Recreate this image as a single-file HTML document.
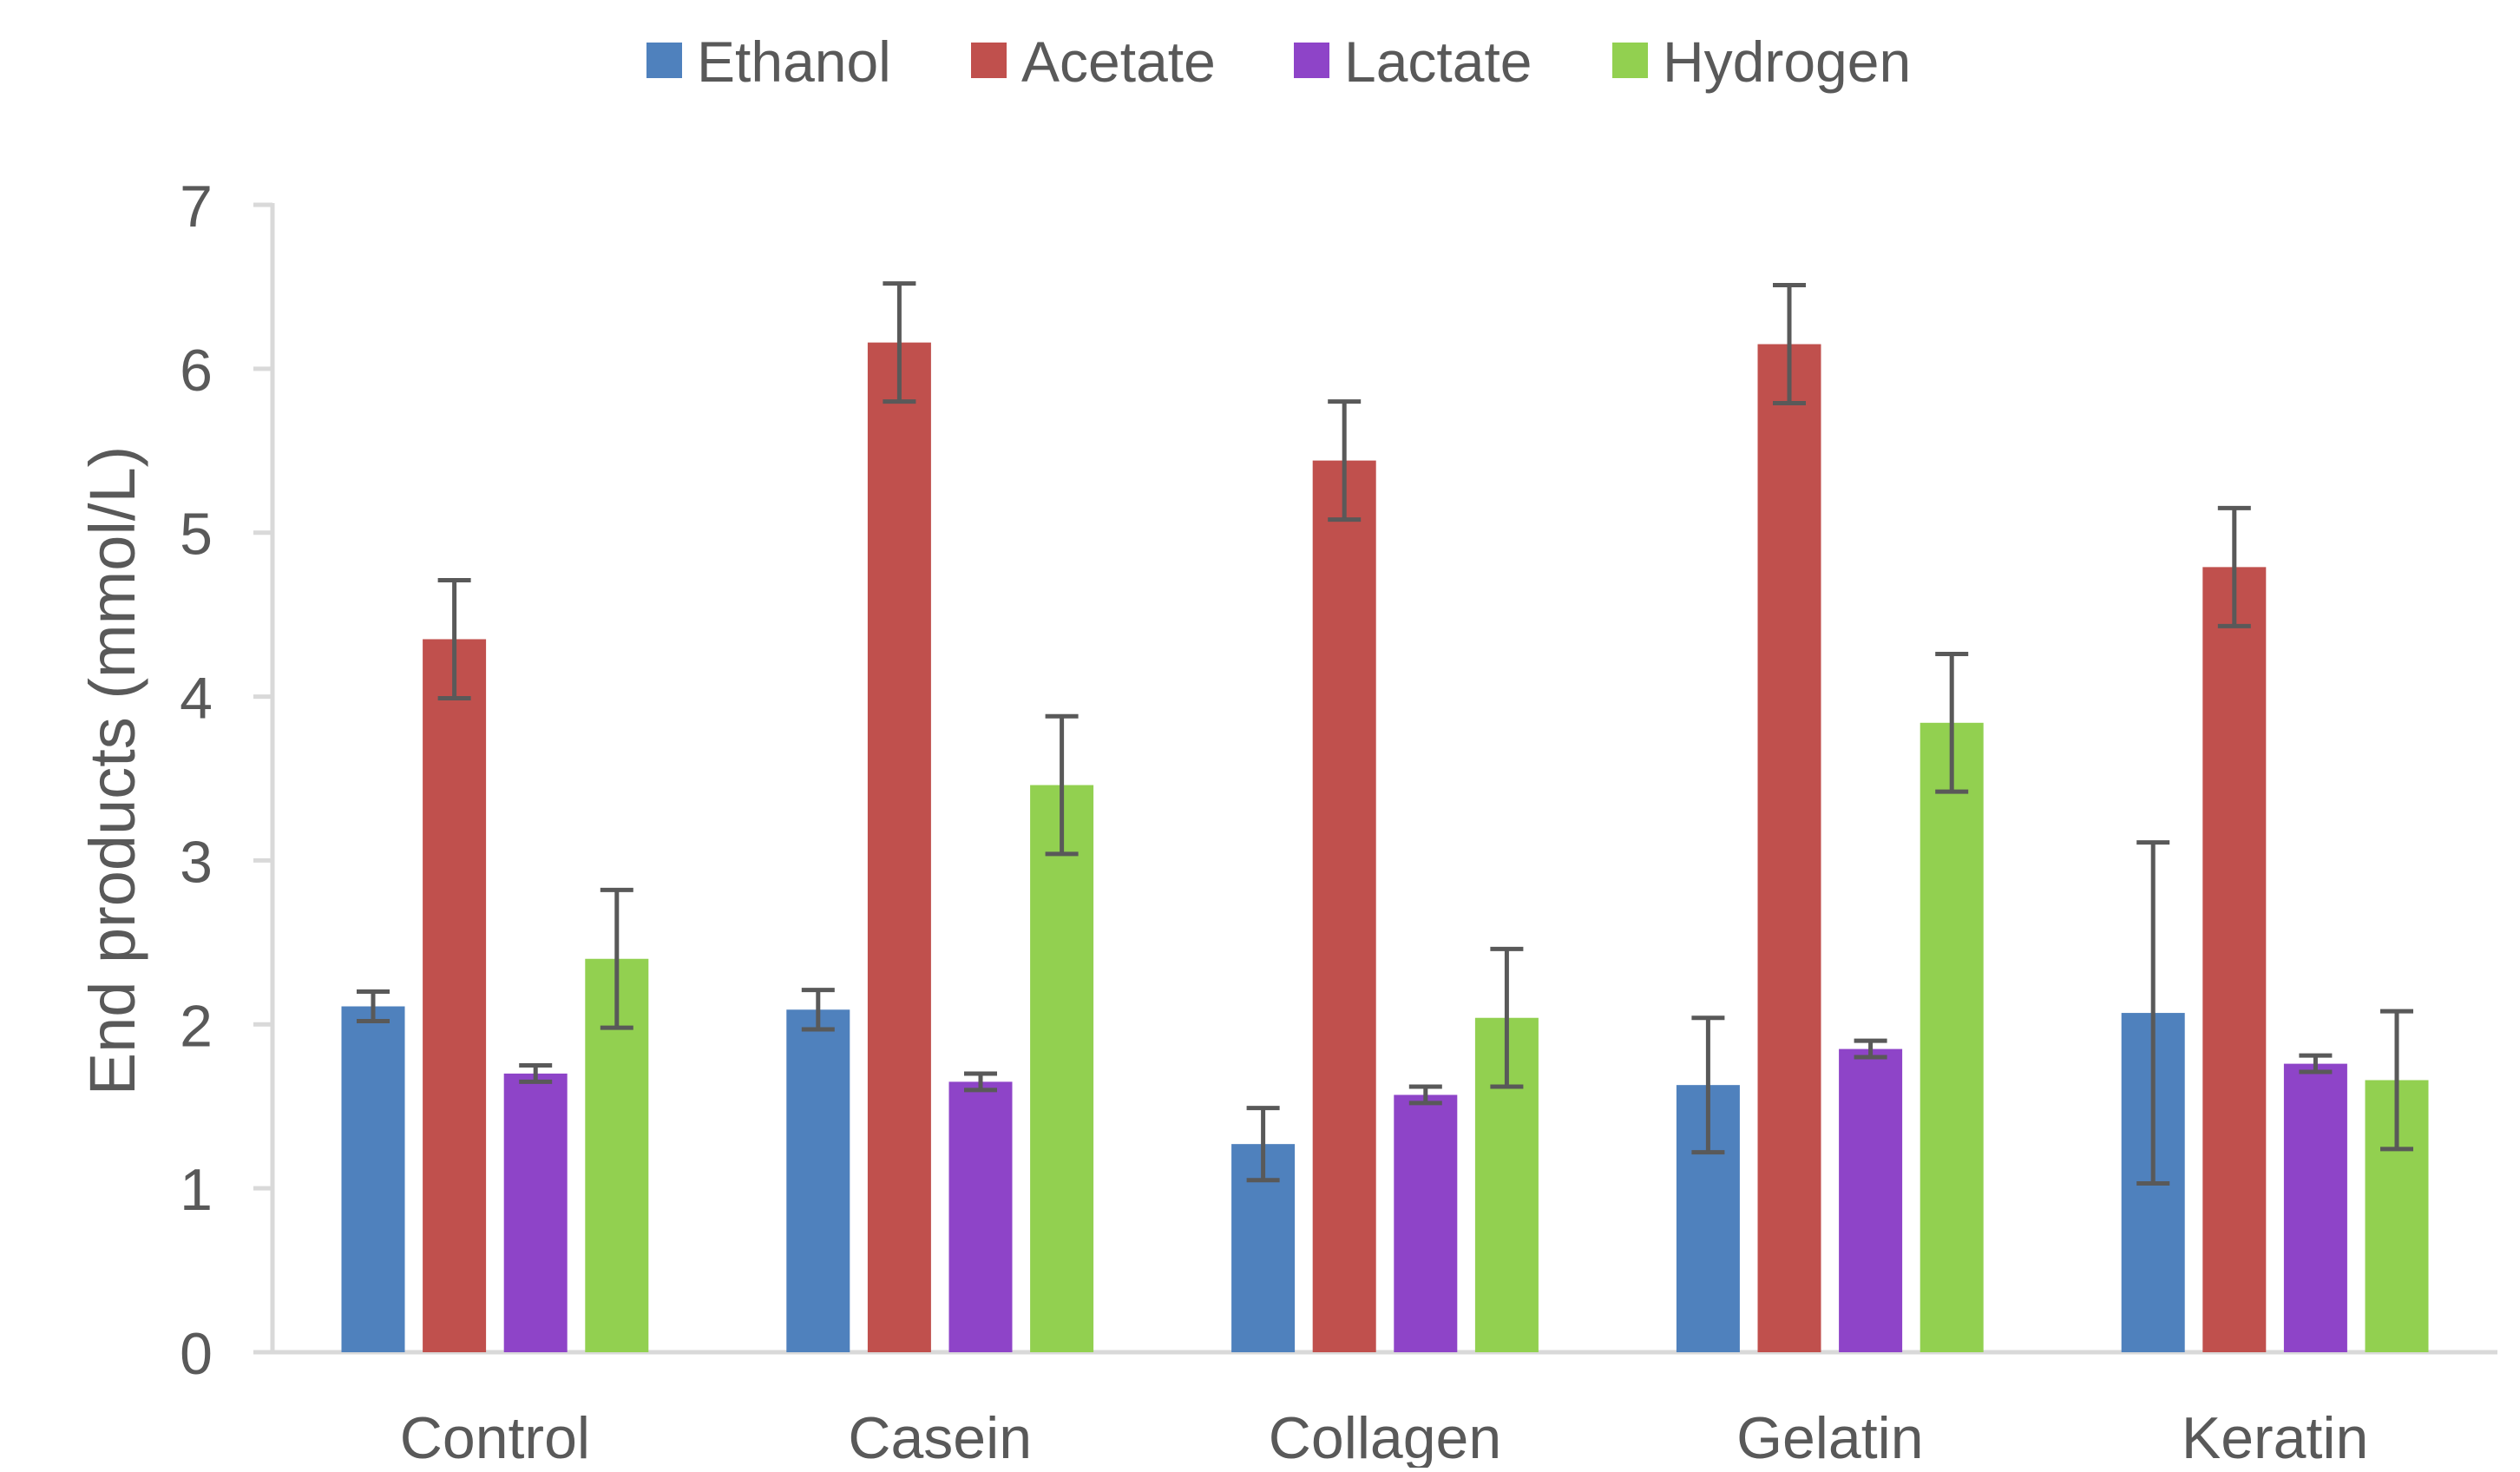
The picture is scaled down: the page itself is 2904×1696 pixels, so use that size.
<!DOCTYPE html>
<html><head><meta charset="utf-8"><style>
html,body{margin:0;padding:0;background:#fff;}
svg text{font-family:"Liberation Sans",sans-serif;fill:#595959;}
</style></head><body>
<svg id="chart" width="2904" height="1691" viewBox="0 0 2904 1691" xmlns="http://www.w3.org/2000/svg">
<g id="legend"></g>
<g id="axes"></g>
<g id="bars"></g>
<g id="errs"></g>
<text transform="translate(155,888) rotate(-90)" text-anchor="middle" font-size="74">End products (mmol/L)</text>
</svg>
<script>
const categories = ["Control","Casein","Collagen","Gelatin","Keratin"];
const seriesNames = ["Ethanol","Acetate","Lactate","Hydrogen"];
const ethanol = [2.11,2.09,1.27,1.63,2.07];
const acetate = [4.35,6.16,5.44,6.15,4.79];
const lactate = [1.70,1.65,1.57,1.85,1.76];
const hydrogen = [2.40,3.46,2.04,3.84,1.66];
const ethanolErr = [0.09,0.12,0.22,0.41,1.04];
const acetateErr = [0.36,0.36,0.36,0.36,0.36];
const lactateErr = [0.05,0.05,0.05,0.05,0.05];
const hydrogenErr = [0.42,0.42,0.42,0.42,0.42];
const yTicks = [0,1,2,3,4,5,6,7];

const colors = ["#4f81bd","#c0504d","#8e44c8","#92d050"];
const values = [ethanol,acetate,lactate,hydrogen];
const errs = [ethanolErr,acetateErr,lactateErr,hydrogenErr];
const NS="http://www.w3.org/2000/svg";
const X0=314, X1=2878, Y0=1558, Y7=236, YMAX=7;
const y = v => Y0 - (v/YMAX)*(Y0-Y7);
const groupW=(X1-X0)/categories.length;
const xc = i => X0 + groupW*(i+0.5);
const barW=73, step=93.6;
const barX = (i,s) => xc(i) + (s-1.5)*step - barW/2;
function mk(tag,attrs,parent){const e=document.createElementNS(NS,tag);for(const k in attrs)e.setAttribute(k,attrs[k]);parent.appendChild(e);return e;}
const axes=document.getElementById('axes');
yTicks.forEach(t=>{
  const l=mk('line',{x1:X0-22,x2:X0,y1:y(t),y2:y(t),stroke:'#d9d9d9','stroke-width':5},axes);
  
  
  const tx=mk('text',{x:245,y:y(t)+25,'text-anchor':'end','font-size':68},axes);
  tx.textContent=t;
  
  
});
const ya=mk('line',{x1:X0,x2:X0,y1:Y7-2,y2:Y0+2,stroke:'#d9d9d9','stroke-width':5},axes);


const xa=mk('line',{x1:X0-22,x2:X1,y1:Y0,y2:Y0,stroke:'#d9d9d9','stroke-width':5},axes);


categories.forEach((c,i)=>{
  const tx=mk('text',{x:xc(i),y:1680,'text-anchor':'middle','font-size':68},axes);
  tx.textContent=c;
  
  
});
const bars=document.getElementById('bars'), eg=document.getElementById('errs');
values.forEach((arr,s)=>{
  arr.forEach((v,i)=>{
    const r=mk('rect',{x:barX(i,s),y:y(v),width:barW,height:Y0-y(v),fill:colors[s]},bars);
    
    
    const cx=barX(i,s)+barW/2, e=errs[s][i];
    const g=mk('g',{stroke:'#595959','stroke-width':5},eg);
    
    
    mk('line',{x1:cx,x2:cx,y1:y(v+e),y2:y(v-e)},g);
    mk('line',{x1:cx-19,x2:cx+19,y1:y(v+e),y2:y(v+e)},g);
    mk('line',{x1:cx-19,x2:cx+19,y1:y(v-e),y2:y(v-e)},g);
  });
});
const lg=document.getElementById('legend');
const lx=[745,1119,1491,1858];
seriesNames.forEach((n,s)=>{
  const g=mk('g',{},lg);
  
  
  mk('rect',{x:lx[s],y:49,width:41,height:41,fill:colors[s]},g);
  const t=mk('text',{x:lx[s]+58,y:94,'font-size':66},g);
  t.textContent=n;
});
</script>
</body></html>
